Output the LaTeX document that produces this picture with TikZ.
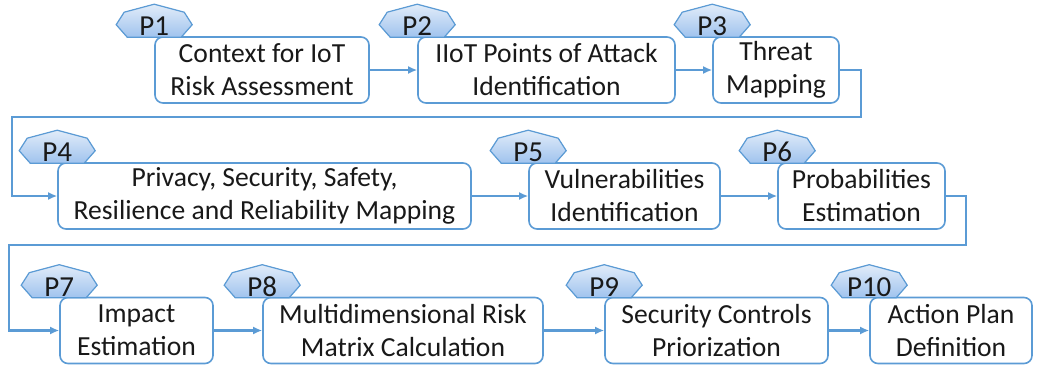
\documentclass[tikz,border=0pt]{standalone}
\usepackage{fontspec}
\setmainfont{Carlito}
\usepackage{tikz}
\usetikzlibrary{arrows.meta}

\definecolor{lineblue}{RGB}{91,155,213}
\definecolor{badgetop}{RGB}{225,236,249}
\definecolor{badgebot}{RGB}{160,195,238}

\begin{document}
\begin{tikzpicture}[x=0.5pt,y=-0.5pt]
\tikzset{stage/.style = {draw=lineblue, line width=0.8pt, rounded corners=4pt, fill=white,
  align=center, inner sep=0pt, minimum height=33pt, text=black!90,
  font=\fontsize{13.8}{16.5}\selectfont}}
\tikzset{badge/.style = {inner sep=0pt, text=black!90, font=\fontsize{14.5}{15}\selectfont}}
\tikzset{badgeshape/.style = {draw=lineblue, line width=0.6pt, top color=badgetop, bottom color=badgebot}}
\tikzset{flow/.style = {draw=lineblue, line width=1.1pt, -{Latex[length=4.5pt,width=4pt]}}}
\fill[white] (0,0) rectangle (1037,370);
\useasboundingbox (0,0) rectangle (1037,370);
% stages
\node[stage, minimum width=107pt]   (s1)  at (262,70)    {Context for IoT\\Risk Assessment};
\node[stage, minimum width=128.5pt] (s2)  at (546.5,70)  {IIoT Points of Attack\\Identification};
\node[stage, minimum width=63pt]    (s3)  at (776,70)    {Threat\\Mapping};
\node[stage, minimum width=206.5pt] (s4)  at (264.5,196) {Privacy, Security, Safety,\\Resilience and Reliability Mapping};
\node[stage, minimum width=95.5pt]  (s5)  at (624.5,196) {Vulnerabilities\\Identification};
\node[stage, minimum width=83.5pt]  (s6)  at (861.5,196) {Probabilities\\Estimation};
\node[stage, minimum width=76.5pt]  (s7)  at (136.5,330.5) {Impact\\Estimation};
\node[stage, minimum width=140pt]   (s8)  at (403,330.5) {Multidimensional Risk\\Matrix Calculation};
\node[stage, minimum width=111.5pt] (s9)  at (716.5,330.5) {Security Controls\\Priorization};
\node[stage, minimum width=81pt]    (s10) at (951,330.5) {Action Plan\\Definition};
% badges
\foreach \i in {1,...,10} {
  \coordinate (c\i) at ([yshift=7.5pt]s\i.north west);
  \begin{scope}[shift={(c\i)}]
    \filldraw[badgeshape] (0,-17) -- (-30,-9) -- (-38,3.5) -- (-27,16)
      -- (27,16) -- (38,3.5) -- (30,-9) -- cycle;
  \end{scope}
  \node[badge] (p\i) at ([yshift=-2.5pt]c\i) {P\i};
}
% connectors
\coordinate (turn1) at (12,117);
\coordinate (turn2) at (9,245);
\draw[flow] (s1) to (s2);
\draw[flow] (s2) to (s3);
\draw[flow] (s3.east) -- ++(21,0) |- (turn1) |- (s4.west);
\draw[flow] (s4) to (s5);
\draw[flow] (s5) to (s6);
\draw[flow] (s6.east) -- ++(20,0) |- (turn2) |- (s7.west);
\draw[flow] (s7) to (s8);
\draw[flow] (s8) to (s9);
\draw[flow] (s9) to (s10);
\end{tikzpicture}
\end{document}
